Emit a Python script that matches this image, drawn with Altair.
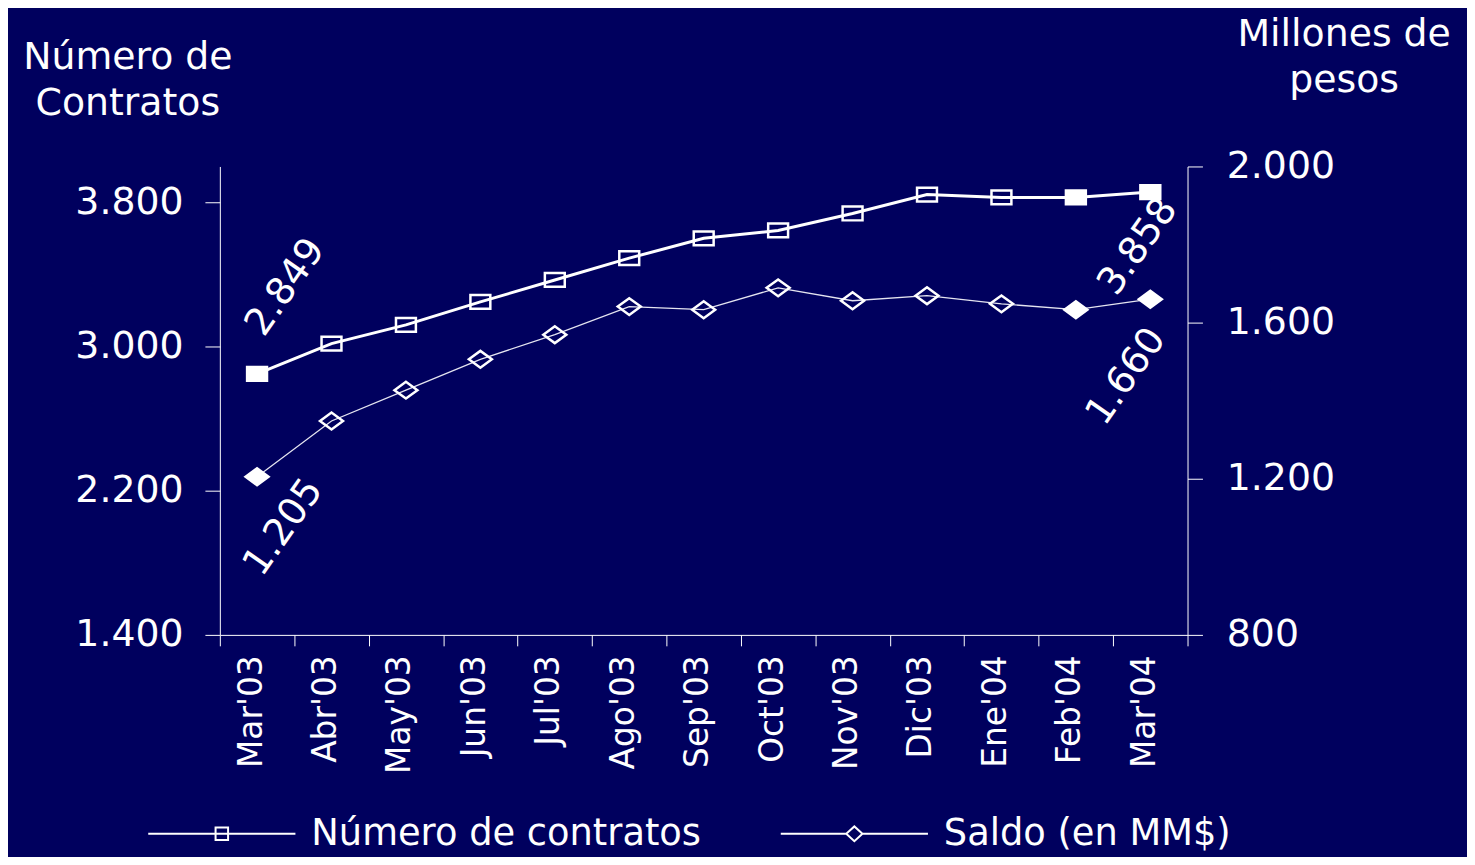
import altair as alt
import pandas as pd

months = ["Mar'03", "Abr'03", "May'03", "Jun'03", "Jul'03", "Ago'03", "Sep'03",
          "Oct'03", "Nov'03", "Dic'03", "Ene'04", "Feb'04", "Mar'04"]
contratos = [2849, 3017, 3121, 3248, 3370, 3491, 3601, 3645, 3739, 3844, 3828, 3828, 3858]
saldo = [1205, 1348, 1427, 1506, 1569, 1641, 1633, 1689, 1656, 1669, 1648, 1633, 1660]
highlight = [1, 0, 0, 0, 0, 0, 0, 0, 0, 0, 0, 1, 1]
series_names = ["Número de contratos", "Saldo (en MM$)"]
left_ticks = [1400, 2200, 3000, 3800]
right_ticks = [800, 1200, 1600, 2000]

df = pd.DataFrame({"month": months, "contratos": contratos, "saldo": saldo, "hl": highlight})
leg_df = pd.DataFrame({"series": series_names})

FONT = "DejaVu Sans"
W, H = 973, 471
FMT = "replace(format(datum.value, ','), ',', '.')"

SQ = "M-1.3,-0.9H1.3V0.9H-1.3Z"
DM = "M-1.5,0L0,-1.1L1.5,0L0,1.1Z"
LEG_SQ = "M-1,0H1M-0.085,-0.085H0.085V0.085H-0.085Z"
LEG_DM = "M-1,0H-0.11M0.11,0H1M-0.11,0L0,-0.1L0.11,0L0,0.1Z"

x_axis = alt.Axis(title=None, labelAngle=270, labelAlign="right", labelBaseline="middle",
                  labelFontSize=33, labelPadding=9, labelOffset=-6, tickBand="extent",
                  tickSize=11, labelOverlap=False)
x = alt.X("month:N", sort=months, bandPosition=0.5,
          scale=alt.Scale(type="band", paddingInner=0, paddingOuter=0), axis=x_axis)

yl_scale = alt.Scale(domain=[1400, 4000], nice=False, zero=False)
yr_scale = alt.Scale(domain=[800, 2000], nice=False, zero=False)

yl = alt.Y("contratos:Q", scale=yl_scale,
           axis=alt.Axis(orient="left", values=left_ticks, labelExpr=FMT,
                         title=["Número de", "Contratos"], titleAngle=0, titleX=-93, titleY=-98,
                         titleAlign="center", titleBaseline="alphabetic", titleFontSize=38,
                         titleFontWeight="normal", titleLineHeight=46,
                         tickSize=15, labelPadding=22, labelFontSize=38))
yr = alt.Y("saldo:Q", scale=yr_scale,
           axis=alt.Axis(orient="right", values=right_ticks, labelExpr=FMT,
                         title=["Millones de", "pesos"], titleAngle=0, titleX=157, titleY=-122,
                         titleAlign="center", titleBaseline="alphabetic", titleFontSize=38,
                         titleFontWeight="normal", titleLineHeight=47,
                         tickSize=15, labelPadding=24, labelFontSize=38))

base = alt.Chart(df)
fill_cond = alt.condition("datum.hl == 1", alt.value("white"), alt.value("transparent"))

line_c = base.mark_line(color="white", strokeWidth=3).encode(x=x, y=yl)
pts_c = base.mark_point(shape=SQ, size=237, strokeWidth=2.5, color="white", opacity=1,
                        filled=False).encode(x=x, y=yl, fill=fill_cond)


def label(field, month, xo, yo):
    return base.transform_filter(f"datum.month == \"{month}\"").transform_calculate(
        lbl=f"replace(format(datum.{field}, ','), ',', '.')"
    ).mark_text(angle=305, fontSize=38, font=FONT, color="white", align="center",
                baseline="middle", xOffset=xo, yOffset=yo)


lab_c1 = label("contratos", "Mar'03", 29, -87).encode(x=x, y=yl, text="lbl:N")
lab_c2 = label("contratos", "Mar'04", -12, 55).encode(x=x, y=yl, text="lbl:N")

legend_layer = alt.Chart(leg_df).mark_point(opacity=0, filled=False).encode(
    shape=alt.Shape("series:N", scale=alt.Scale(domain=series_names, range=[LEG_SQ, LEG_DM]),
                    legend=alt.Legend(title=None, orient="none", legendX=-73, legendY=596,
                                      direction="horizontal", symbolSize=21904,
                                      symbolStrokeColor="white", symbolFillColor="transparent",
                                      symbolStrokeWidth=2, symbolOpacity=1, labelColor="white",
                                      labelFont=FONT, labelFontSize=37, labelOffset=15,
                                      columnPadding=76, padding=0, labelLimit=700))
)

line_s = base.mark_line(color="#e4e4f0", strokeWidth=1.3).encode(x=x, y=yr)
pts_s = base.mark_point(shape=DM, size=237, strokeWidth=2.5, color="white", opacity=1,
                        filled=False).encode(x=x, y=yr, fill=fill_cond)
lab_s1 = label("saldo", "Mar'03", 27, 51).encode(x=x, y=yr, text="lbl:N")
lab_s2 = label("saldo", "Mar'04", -24, 78).encode(x=x, y=yr, text="lbl:N")

left = alt.layer(line_c, pts_c, lab_c1, lab_c2, legend_layer)
right = alt.layer(line_s, pts_s, lab_s1, lab_s2)

chart = alt.layer(left, right).resolve_scale(y="independent").properties(
    width=W, height=H,
    autosize=alt.AutoSizeParams(type="none"),
    padding={"left": 213, "top": 157, "right": 281, "bottom": 221},
    background="#00005e",
).configure_view(stroke=None).configure_axis(
    domainColor="white", tickColor="white", labelColor="white", titleColor="white",
    labelFont=FONT, titleFont=FONT, grid=False, domainWidth=1, tickWidth=1
)

chart.save("out.html", embed_options={"renderer": "svg", "actions": False})
